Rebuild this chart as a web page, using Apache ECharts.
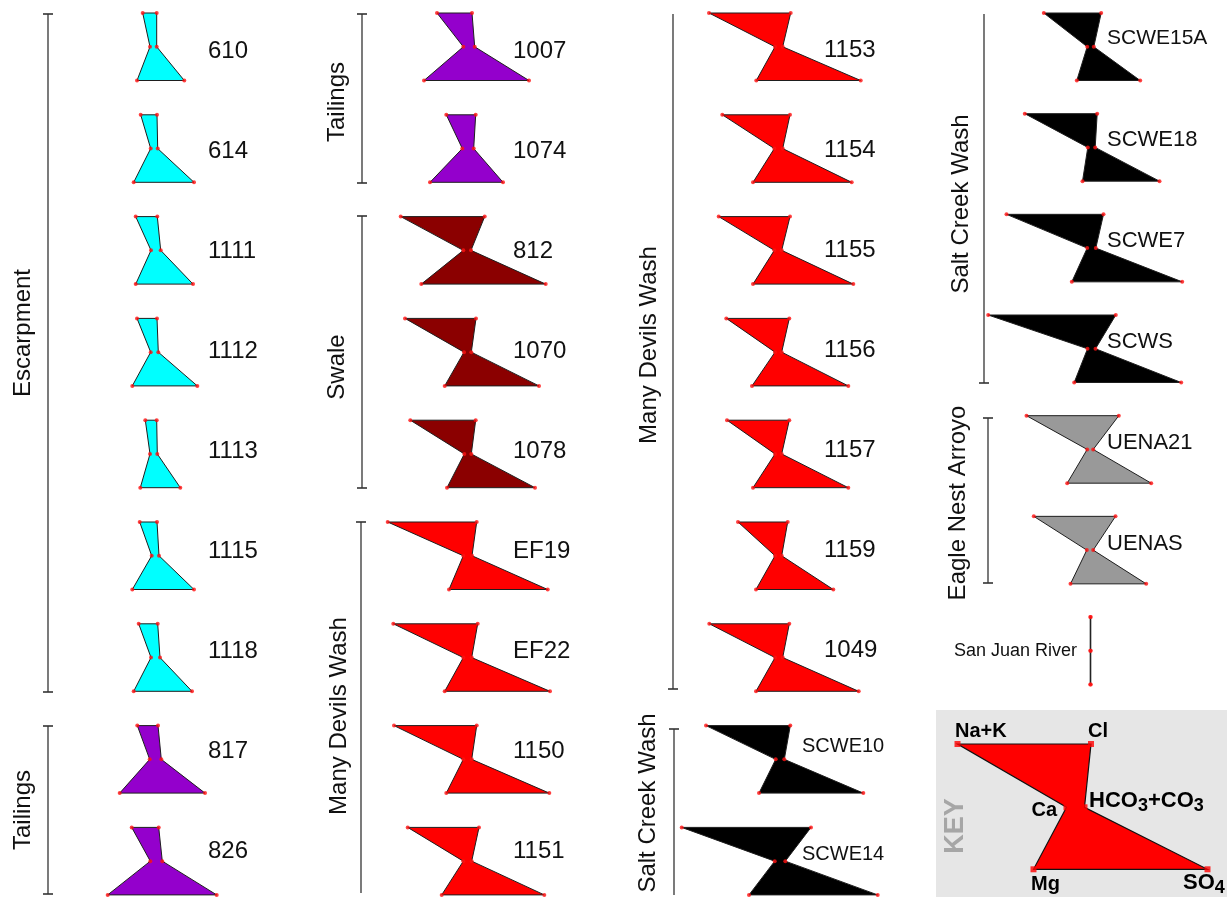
<!DOCTYPE html>
<html>
<head>
<meta charset="utf-8">
<script src="https://cdn.jsdelivr.net/npm/echarts@6/dist/echarts.min.js"></script>
<style>
  html, body { margin: 0; padding: 0; background: #ffffff; }
  #chart { width: 1227px; height: 897px; }
</style>
</head>
<body>
<div id="chart"></div>
<script>
// Stiff diagrams: cations (Na+K, Ca, Mg) plotted left of each centre line,
// anions (Cl, HCO3+CO3, SO4) plotted right of it.

const samples = [
  '610', '614', '1111', '1112', '1113', '1115', '1118', '817', '826',
  '1007', '1074', '812', '1070', '1078', 'EF19', 'EF22', '1150', '1151',
  '1153', '1154', '1155', '1156', '1157', '1159', '1049', 'SCWE10', 'SCWE14',
  'SCWE15A', 'SCWE18', 'SCWE7', 'SCWS', 'UENA21', 'UENAS', 'San Juan River'
];

const sampleGroup = [
  'Escarpment', 'Escarpment', 'Escarpment', 'Escarpment', 'Escarpment', 'Escarpment', 'Escarpment', 'Tailings', 'Tailings',
  'Tailings', 'Tailings', 'Swale', 'Swale', 'Swale', 'Many Devils Wash', 'Many Devils Wash', 'Many Devils Wash', 'Many Devils Wash',
  'Many Devils Wash', 'Many Devils Wash', 'Many Devils Wash', 'Many Devils Wash', 'Many Devils Wash', 'Many Devils Wash', 'Many Devils Wash', 'Salt Creek Wash', 'Salt Creek Wash',
  'Salt Creek Wash', 'Salt Creek Wash', 'Salt Creek Wash', 'Salt Creek Wash', 'Eagle Nest Arroyo', 'Eagle Nest Arroyo', 'San Juan River'
];

// ion concentrations (diagram width units)
const naK  = [11.3, 13.3, 18.3, 17.0, 8.7, 14.3, 15.3, 16.7, 22.3,
              31.0, 21.7, 67.3, 63.0, 57.7, 80.3, 74.7, 74.0, 60.3,
              70.0, 56.7, 60.3, 52.7, 52.0, 41.0, 69.7, 73.0, 97.3,
              46.7, 65.7, 84.0, 102.3, 64.0, 56.7, 0.3];
const ca   = [4.0, 3.3, 3.0, 3.3, 4.0, 2.3, 3.0, 4.3, 3.7,
              4.7, 5.7, 4.7, 4.0, 3.7, 4.7, 4.7, 4.7, 4.7,
              4.0, 4.7, 4.7, 4.0, 4.0, 4.0, 4.0, 3.3, 4.3,
              3.3, 2.7, 3.3, 3.0, 3.3, 3.7, 0.3];
const mg   = [17.0, 20.3, 18.3, 21.7, 13.7, 21.7, 20.3, 34.3, 46.3,
              44.0, 38.0, 46.7, 23.3, 21.0, 19.0, 23.3, 21.7, 26.3,
              22.7, 26.0, 26.0, 27.0, 26.0, 23.0, 23.0, 20.0, 30.0,
              13.7, 8.0, 18.7, 16.3, 23.3, 20.0, 0.3];
const cl   = [2.7, 3.0, 3.3, 3.0, 2.7, 3.0, 3.7, 4.0, 4.7,
              4.0, 7.7, 16.7, 8.0, 7.7, 8.7, 9.7, 8.7, 11.0,
              11.7, 11.0, 11.0, 10.3, 10.3, 8.7, 10.3, 11.3, 32.0,
              10.7, 6.7, 13.0, 25.3, 28.3, 25.0, 0.3];
const hco3 = [2.7, 3.7, 6.7, 4.3, 3.3, 5.0, 6.0, 7.3, 8.3,
              6.7, 5.7, 3.0, 3.3, 3.3, 4.0, 3.7, 3.7, 3.7,
              3.7, 3.7, 2.7, 2.7, 2.7, 2.7, 3.7, 5.3, 6.3,
              3.3, 4.7, 5.3, 5.0, 2.7, 2.7, 0.3];
const so4  = [30.3, 40.0, 39.0, 43.3, 26.3, 40.0, 38.0, 51.0, 62.7,
              61.0, 35.0, 77.7, 71.0, 67.0, 79.7, 82.0, 81.3, 76.3,
              81.7, 72.7, 74.3, 69.3, 69.3, 54.3, 79.7, 84.3, 98.7,
              49.7, 69.0, 91.7, 90.7, 60.7, 55.7, 0.3];

// example diagram for the key
const keyIons = ['Na+K', 'Cl', 'HCO3+CO3', 'SO4', 'Mg', 'Ca'];
const keyValues = { naK: 118, ca: 9, mg: 42, cl: 15.5, hco3: 9, so4: 132 };

// ---------- layout ----------
const groupColor = {
  'Escarpment': '#00ffff',
  'Tailings': '#9400cc',
  'Swale': '#8b0000',
  'Many Devils Wash': '#ff0000',
  'Salt Creek Wash': '#000000',
  'Eagle Nest Arroyo': '#999999',
  'San Juan River': '#000000'
};

const columns = [
  { cx: 154,    top: 13, pitch: 101.8,  lx: 208,  ly: 51,   lp: 100, font: 24 },
  { cx: 468,    top: 13, pitch: 101.8,  lx: 513,  ly: 51,   lp: 100, font: 24 },
  { cx: 779,    top: 13, pitch: 101.8,  lx: 824,  ly: 50.5, lp: 100, font: 24 },
  { cx: 1090.5, top: 13, pitch: 100.67, lx: 1107, ly: 38.5, lp: 101, font: 22 }
];
const colCounts = [9, 9, 9, 7];
const slots = [];
colCounts.forEach((n, c) => { for (let r = 0; r < n; r++) slots.push([c, r]); });
const DIAG_H = 67.5;

const labelTweak = {
  'SCWE10': { x: 802, dy: -4, font: 20 },
  'SCWE14': { x: 802, dy: 4, font: 20 },
  'SCWE15A': { font: 21 },
  'San Juan River': { x: 1077, y: 651, font: 18, align: 'right' }
};

function frame(i) {
  const [c, r] = slots[i];
  const col = columns[c];
  const top = col.top + r * col.pitch;
  return { cx: col.cx, top: top, mid: top + DIAG_H / 2, bot: top + DIAG_H, col: col, r: r };
}

function vertices(cx, top, mid, bot, v) {
  return [
    [cx - v.naK, top], [cx + v.cl, top], [cx + v.hco3, mid],
    [cx + v.so4, bot], [cx - v.mg, bot], [cx - v.ca, mid]
  ];
}
function ionsOf(i) {
  return { naK: naK[i], ca: ca[i], mg: mg[i], cl: cl[i], hco3: hco3[i], so4: so4[i] };
}

const FONT = '"Liberation Sans", Arial, sans-serif';

function renderStiff(params, api) {
  const i = api.value(0);
  const f = frame(i);
  const pts = vertices(f.cx, f.top, f.mid, f.bot, ionsOf(i)).map(p => api.coord(p));
  const name = samples[i];
  const tw = labelTweak[name] || {};
  const lx = tw.x !== undefined ? tw.x : f.col.lx;
  const ly = tw.y !== undefined ? tw.y : f.col.ly + f.r * f.col.lp + (tw.dy || 0);
  const lpt = api.coord([lx, ly]);
  return {
    type: 'group',
    children: [
      {
        type: 'polygon',
        shape: { points: pts },
        style: { fill: groupColor[sampleGroup[i]], stroke: '#1e1e1e', lineWidth: 1 }
      },
      {
        type: 'text',
        x: lpt[0], y: lpt[1],
        style: {
          text: name,
          fill: '#111111',
          font: (tw.font || f.col.font) + 'px ' + FONT,
          align: tw.align || 'left', textAlign: tw.align || 'left',
          verticalAlign: 'middle', textVerticalAlign: 'middle'
        }
      }
    ]
  };
}

const KEY_CX = 1075.5, KEY_TOP = 744, KEY_MID = 807.3, KEY_BOT = 869.3;

function renderKey(params, api) {
  const pts = vertices(KEY_CX, KEY_TOP, KEY_MID, KEY_BOT, keyValues).map(p => api.coord(p));
  return {
    type: 'polygon',
    shape: { points: pts },
    style: { fill: '#ff0000', stroke: '#111111', lineWidth: 1.2 }
  };
}

const sampleDots = [];
samples.forEach((s, i) => {
  const f = frame(i);
  vertices(f.cx, f.top, f.mid, f.bot, ionsOf(i)).forEach(p => sampleDots.push(p));
});
const keyDots = vertices(KEY_CX, KEY_TOP, KEY_MID, KEY_BOT, keyValues);

// ---------- group brackets and titles ----------
const brackets = [
  { x: 48,  y1: 14,  y2: 692, capTop: true,  capBot: true },
  { x: 48,  y1: 726, y2: 894, capTop: true,  capBot: true },
  { x: 362, y1: 14,  y2: 183, capTop: true,  capBot: true },
  { x: 362, y1: 216, y2: 488, capTop: true,  capBot: true },
  { x: 361, y1: 522, y2: 893, capTop: true,  capBot: false },
  { x: 673, y1: 14,  y2: 689, capTop: false, capBot: true },
  { x: 674, y1: 729, y2: 895, capTop: true,  capBot: false },
  { x: 984, y1: 14,  y2: 383, capTop: false, capBot: true },
  { x: 988, y1: 418, y2: 583, capTop: true,  capBot: true }
];
const groupTitles = [
  { text: 'Escarpment',        x: 23,  y: 333 },
  { text: 'Tailings',          x: 23,  y: 810 },
  { text: 'Tailings',          x: 337, y: 102 },
  { text: 'Swale',             x: 337, y: 367 },
  { text: 'Many Devils Wash',  x: 339, y: 716 },
  { text: 'Many Devils Wash',  x: 649, y: 345 },
  { text: 'Salt Creek Wash',   x: 648, y: 803 },
  { text: 'Salt Creek Wash',   x: 961, y: 204 },
  { text: 'Eagle Nest Arroyo', x: 958, y: 503 }
];

const graphics = [];
brackets.forEach(b => {
  graphics.push({ type: 'line', shape: { x1: b.x, y1: b.y1, x2: b.x, y2: b.y2 },
                  style: { stroke: '#333333', lineWidth: 1.3 }, z: 1 });
  if (b.capTop) graphics.push({ type: 'line', shape: { x1: b.x - 5, y1: b.y1, x2: b.x + 5, y2: b.y1 },
                                style: { stroke: '#333333', lineWidth: 1.6 }, z: 1 });
  if (b.capBot) graphics.push({ type: 'line', shape: { x1: b.x - 5, y1: b.y2, x2: b.x + 5, y2: b.y2 },
                                style: { stroke: '#333333', lineWidth: 1.6 }, z: 1 });
});
groupTitles.forEach(t => {
  graphics.push({
    type: 'text', x: t.x, y: t.y, rotation: Math.PI / 2, z: 1,
    style: { text: t.text, fill: '#111111', font: '24px ' + FONT,
             align: 'center', textAlign: 'center', verticalAlign: 'middle', textVerticalAlign: 'middle' }
  });
});

// key panel
graphics.push({ type: 'rect', shape: { x: 936, y: 710, width: 291, height: 187 },
                style: { fill: '#e6e6e6' }, z: 0 });
graphics.push({
  type: 'text', x: 956, y: 826, rotation: Math.PI / 2, z: 1,
  style: { text: 'KEY', fill: '#a6a6a6', font: 'bold 27px ' + FONT,
           align: 'center', textAlign: 'center', verticalAlign: 'middle', textVerticalAlign: 'middle' }
});
const keyBold = 'bold 20px ' + FONT;
const keyLabels = [
  { text: keyIons[0], x: 955,  y: 731, align: 'left' },
  { text: keyIons[1], x: 1088, y: 731, align: 'left' },
  { text: keyIons[5], x: 1057, y: 810, align: 'right' },
  { text: keyIons[4], x: 1031, y: 884, align: 'left' }
];
keyLabels.forEach(k => {
  graphics.push({
    type: 'text', x: k.x, y: k.y, z: 30,
    style: { text: k.text, fill: '#000000', font: keyBold,
             align: k.align, textAlign: k.align, verticalAlign: 'middle', textVerticalAlign: 'middle' }
  });
});
const subRich = {
  m: { font: 'bold 22px ' + FONT, fill: '#000000' },
  s: { font: 'bold 18px ' + FONT, fill: '#000000', padding: [10, 0, 0, 0] }
};
graphics.push({
  type: 'text', x: 1089, y: 801, z: 30,
  style: { text: '{m|HCO}{s|3}{m|+CO}{s|3}', rich: subRich,
           align: 'left', textAlign: 'left', verticalAlign: 'middle', textVerticalAlign: 'middle' }
});
graphics.push({
  type: 'text', x: 1183, y: 883, z: 30,
  style: { text: '{m|SO}{s|4}', rich: subRich,
           align: 'left', textAlign: 'left', verticalAlign: 'middle', textVerticalAlign: 'middle' }
});

const chart = echarts.init(document.getElementById('chart'), null, { renderer: 'canvas' });
chart.setOption({
  backgroundColor: '#ffffff',
  animation: false,
  grid: { left: 0, right: 0, top: 0, bottom: 0, containLabel: false },
  xAxis: { type: 'value', min: 0, max: 1227, show: false },
  yAxis: { type: 'value', min: 0, max: 897, inverse: true, show: false },
  graphic: graphics,
  series: [
    {
      type: 'custom', name: 'key', z: 3, clip: false, silent: true,
      renderItem: renderKey,
      data: [[0]]
    },
    {
      type: 'scatter', name: 'key ions', z: 4, silent: true,
      symbol: 'rect', symbolSize: 6,
      itemStyle: { color: '#ff0000' },
      data: keyDots
    },
    {
      type: 'custom', name: 'samples', z: 3, clip: false, silent: true,
      renderItem: renderStiff,
      data: samples.map((s, i) => [i])
    },
    {
      type: 'scatter', name: 'sample ions', z: 4, silent: true,
      symbolSize: 4,
      itemStyle: { color: '#ff1010' },
      data: sampleDots
    }
  ]
});
</script>
</body>
</html>
